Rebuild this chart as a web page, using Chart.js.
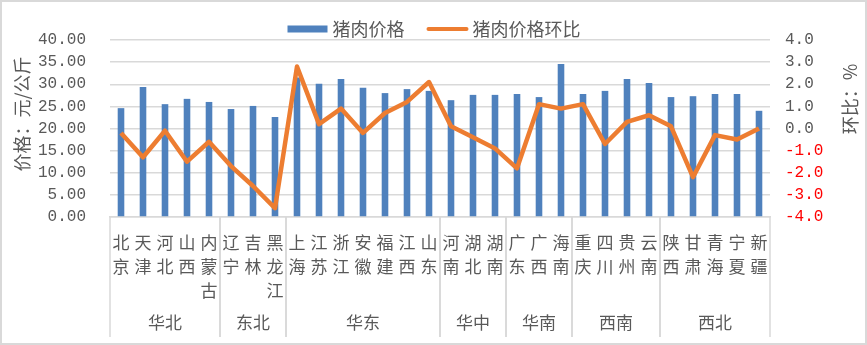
<!DOCTYPE html>
<html>
<head>
<meta charset="utf-8">
<script src="https://cdn.jsdelivr.net/npm/chart.js@4/dist/chart.umd.min.js"></script>
<style>
  html, body { margin: 0; padding: 0; background: #fff; }
</style>
</head>
<body>
<canvas id="chart" width="867" height="345"></canvas>
<script>
// provinces, one array of characters per label so they stack vertically
const provinces = [
  ['北','京'], ['天','津'], ['河','北'], ['山','西'], ['内','蒙','古'],
  ['辽','宁'], ['吉','林'], ['黑','龙','江'],
  ['上','海'], ['江','苏'], ['浙','江'], ['安','徽'], ['福','建'], ['江','西'], ['山','东'],
  ['河','南'], ['湖','北'], ['湖','南'],
  ['广','东'], ['广','西'], ['海','南'],
  ['重','庆'], ['四','川'], ['贵','州'], ['云','南'],
  ['陕','西'], ['甘','肃'], ['青','海'], ['宁','夏'], ['新','疆']
];
const regions = ['华北', '东北', '华东', '华中', '华南', '西南', '西北'];
const regionSizes = [5, 3, 7, 3, 3, 4, 5];

// 猪肉价格 (元/公斤)
const prices = [
  24.6, 29.4, 25.5, 26.7, 26.0,
  24.4, 25.1, 22.6,
  31.5, 30.1, 31.2, 29.2, 28.0, 28.9, 28.5,
  26.4, 27.6, 27.6,
  27.8, 27.1, 34.6,
  27.8, 28.5, 31.2, 30.3,
  27.1, 27.3, 27.8, 27.8, 24.0
];
// 猪肉价格环比 (%)
const momChange = [
  -0.2, -1.3, -0.1, -1.5, -0.6,
  -1.7, -2.6, -3.6,
  2.8, 0.2, 0.9, -0.2, 0.7, 1.2, 2.1,
  0.1, -0.4, -0.9,
  -1.8, 1.1, 0.9,
  1.1, -0.7, 0.3, 0.6,
  0.1, -2.2, -0.3, -0.5, 0.0
];

const seriesNames = ['猪肉价格', '猪肉价格环比'];
const leftTitle = '价格：元/公斤';
const rightTitle = '环比：%';

const gray = '#595959';
const gridGray = '#d9d9d9';
const blue = '#4f81bd';
const orange = '#ed7d31';
const cjk = '"Noto Sans CJK SC", sans-serif';
const nums = '"Liberation Mono", monospace';

// legend, axis titles, region brackets and outer frame
const decorations = {
  id: 'decorations',
  afterDraw(chart) {
    const { ctx, chartArea: area } = chart;
    const x = chart.scales.x;
    ctx.save();

    // outer frame
    ctx.strokeStyle = gridGray;
    ctx.lineWidth = 2;
    ctx.strokeRect(1, 1, chart.width - 2, chart.height - 2);

    // region separators and names
    const half = (x.getPixelForValue(1) - x.getPixelForValue(0)) / 2;
    ctx.lineWidth = 1.5;
    ctx.font = '17px ' + cjk;
    ctx.fillStyle = gray;
    ctx.textAlign = 'center';
    ctx.textBaseline = 'middle';
    let start = 0;
    regions.forEach((name, k) => {
      const end = start + regionSizes[k] - 1;
      const l = x.getPixelForValue(start) - half;
      const r = x.getPixelForValue(end) + half;
      ctx.beginPath();
      ctx.moveTo(l, area.bottom);
      ctx.lineTo(l, 337);
      ctx.moveTo(r, area.bottom);
      ctx.lineTo(r, 337);
      ctx.stroke();
      ctx.fillText(name, (l + r) / 2, 323);
      start = end + 1;
    });

    // legend
    ctx.font = '18px ' + cjk;
    ctx.textAlign = 'left';
    const w1 = ctx.measureText(seriesNames[0]).width;
    const w2 = ctx.measureText(seriesNames[1]).width;
    const total = 40 + 5 + w1 + 22 + 42 + 4 + w2;
    let lx = 434 - total / 2;
    const ly = 29;
    ctx.fillStyle = blue;
    ctx.fillRect(lx, ly - 3.5, 40, 7);
    lx += 45;
    ctx.fillStyle = gray;
    ctx.fillText(seriesNames[0], lx, ly);
    lx += w1 + 22;
    ctx.strokeStyle = orange;
    ctx.lineWidth = 4;
    ctx.lineCap = 'round';
    ctx.beginPath();
    ctx.moveTo(lx + 2, ly);
    ctx.lineTo(lx + 40, ly);
    ctx.stroke();
    lx += 46;
    ctx.fillText(seriesNames[1], lx, ly);

    // axis titles
    ctx.textAlign = 'center';
    ctx.save();
    ctx.translate(22, 114);
    ctx.rotate(-Math.PI / 2);
    ctx.fillText(leftTitle, 0, 0);
    ctx.restore();
    ctx.save();
    ctx.translate(850, 99);
    ctx.rotate(-Math.PI / 2);
    ctx.fillText(rightTitle, 0, 0);
    ctx.restore();

    ctx.restore();
  }
};

new Chart(document.getElementById('chart'), {
  data: {
    labels: provinces,
    datasets: [
      {
        type: 'line',
        label: seriesNames[1],
        data: momChange,
        yAxisID: 'y1',
        borderColor: orange,
        borderWidth: 4.5,
        borderJoinStyle: 'round',
        pointRadius: 0,
        tension: 0,
        order: 0
      },
      {
        type: 'bar',
        label: seriesNames[0],
        data: prices,
        yAxisID: 'y',
        backgroundColor: blue,
        barPercentage: 0.3,
        categoryPercentage: 1,
        order: 1
      }
    ]
  },
  options: {
    responsive: false,
    animation: false,
    devicePixelRatio: 1,
    layout: { padding: { top: 40, left: 0, right: 0, bottom: 0 } },
    plugins: {
      legend: { display: false },
      tooltip: { enabled: false }
    },
    scales: {
      x: {
        grid: { display: false, drawTicks: false },
        border: { display: true, color: gridGray, width: 1.5 },
        ticks: {
          color: gray,
          font: { family: cjk, size: 17, lineHeight: 1.41 },
          padding: 14,
          maxRotation: 0,
          autoSkip: false
        },
        afterFit(scale) { scale.height = 128; }
      },
      y: {
        position: 'left',
        min: 0,
        max: 40,
        grid: { color: gridGray, lineWidth: 1.5, drawTicks: false },
        border: { display: false },
        ticks: {
          stepSize: 5,
          autoSkip: false,
          color: gray,
          font: { family: nums, size: 16 },
          padding: 24,
          callback: v => v.toFixed(2)
        },
        afterFit(scale) { scale.width = 110; }
      },
      y1: {
        position: 'right',
        min: -4,
        max: 4,
        grid: { display: false, drawTicks: false },
        border: { display: false },
        ticks: {
          stepSize: 1,
          autoSkip: false,
          color: c => (c.tick && c.tick.value < 0 ? '#ff0000' : gray),
          font: { family: nums, size: 16 },
          padding: 15,
          callback: v => v.toFixed(1)
        },
        afterFit(scale) { scale.width = 97; }
      }
    }
  },
  plugins: [decorations]
});
</script>
</body>
</html>
